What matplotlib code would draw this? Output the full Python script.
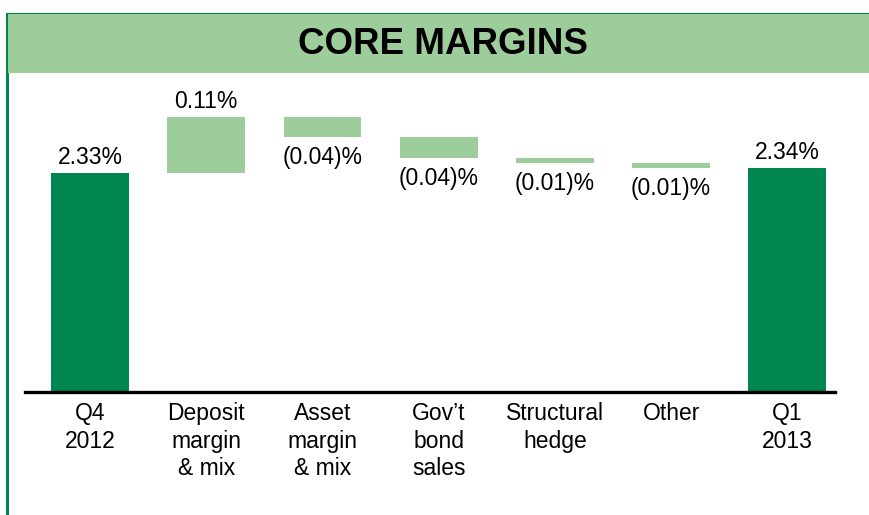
import matplotlib.pyplot as plt
from matplotlib.patches import Rectangle

plt.rcParams['font.family'] = ['Liberation Sans', 'DejaVu Sans']

# data
categories = ['Q4\n2012', 'Deposit\nmargin\n& mix', 'Asset\nmargin\n& mix',
              'Gov\u2019t\nbond\nsales', 'Structural\nhedge', 'Other', 'Q1\n2013']
start_value = 2.33
changes = [0.11, -0.04, -0.04, -0.01, -0.01]
end_value = 2.34
value_labels = ['2.33%', '0.11%', '(0.04)%', '(0.04)%', '(0.01)%', '(0.01)%', '2.34%']

dark_green = '#00874f'
light_green = '#9dcd9a'

fig = plt.figure(figsize=(8.7, 5.15), dpi=100)

# green frame (open to the right and bottom) and title banner
fig.patches.append(Rectangle((7 / 870, -0.2), 1.2, (515 - 14) / 515 + 0.2,
                             transform=fig.transFigure, facecolor='none',
                             edgecolor=dark_green, linewidth=2.2, zorder=0))
fig.patches.append(Rectangle((8 / 870, (515 - 73) / 515), 1, (73 - 14) / 515,
                             transform=fig.transFigure, facecolor=light_green,
                             edgecolor='none', zorder=0))
fig.text(443 / 870, (515 - 45) / 515, 'CORE MARGINS', ha='center', va='center',
         fontsize=26.5, fontweight='bold')

ax = fig.add_axes([25 / 870, 123 / 515, 810 / 870, 319 / 515])
ax.patch.set_alpha(0)
base = 1.90
ax.set_ylim(base, 2.526)
ax.set_xlim(-0.56, 6.41)

# waterfall bars
width = 0.67
ax.bar(0, start_value - base, bottom=base, width=width, color=dark_green)
level = start_value
for i, c in enumerate(changes, start=1):
    ax.bar(i, abs(c), bottom=min(level, level + c), width=width, color=light_green)
    if c >= 0:
        ax.text(i, level + c + 0.008, value_labels[i], ha='center', va='bottom', fontsize=16.5)
    else:
        ax.text(i, level + c - 0.018, value_labels[i], ha='center', va='top', fontsize=16.5)
    level += c
n = len(categories) - 1
ax.bar(n, end_value - base, bottom=base, width=width, color=dark_green)
ax.text(0, start_value + 0.008, value_labels[0], ha='center', va='bottom', fontsize=16.5)
ax.text(n, end_value + 0.008, value_labels[-1], ha='center', va='bottom', fontsize=16.5)

for s in ['top', 'right', 'left']:
    ax.spines[s].set_visible(False)
ax.spines['bottom'].set_linewidth(2.4)
ax.spines['bottom'].set_color('black')
ax.set_yticks([])
ax.set_xticks(range(len(categories)))
ax.set_xticklabels(categories, fontsize=16.5, linespacing=1.27)
ax.tick_params(axis='x', length=0, pad=7)

fig.savefig('out.png', dpi=100)
